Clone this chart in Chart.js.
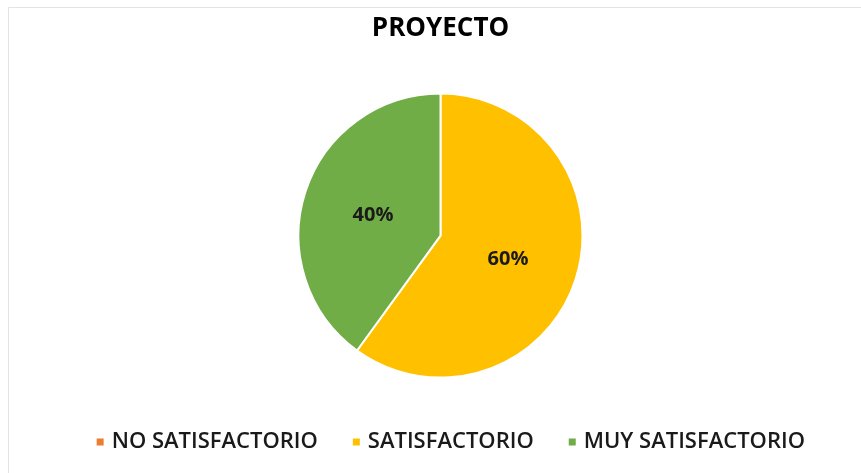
<!DOCTYPE html>
<html>
<head>
<meta charset="utf-8">
<script src="https://cdn.jsdelivr.net/npm/chart.js@4"></script>
<style>
  html, body { margin: 0; padding: 0; background: #fff; }
  #wrap { position: relative; width: 861px; height: 473px; }
</style>
</head>
<body>
<div id="wrap"><canvas id="pieChart" width="861" height="473"></canvas></div>
<script>
// Data
const categories = ['NO SATISFACTORIO', 'SATISFACTORIO', 'MUY SATISFACTORIO'];
const percentages = [0, 60, 40];
const sliceColors = ['#ED7D31', '#FFC000', '#70AD47'];

// Light frame line on top and left edges, like the pasted Excel chart
const framePlugin = {
  id: 'frame',
  beforeDraw(chart) {
    const ctx = chart.ctx;
    ctx.save();
    ctx.fillStyle = '#fff';
    ctx.fillRect(0, 0, chart.width, chart.height);
    ctx.strokeStyle = '#e3e3e3';
    ctx.lineWidth = 1;
    ctx.beginPath();
    ctx.moveTo(8.5, chart.height);
    ctx.lineTo(8.5, 7.5);
    ctx.lineTo(chart.width, 7.5);
    ctx.stroke();
    ctx.restore();
  }
};

// Percent labels inside the slices
const sliceLabels = {
  id: 'sliceLabels',
  afterDatasetsDraw(chart) {
    const ctx = chart.ctx;
    const meta = chart.getDatasetMeta(0);
    ctx.save();
    ctx.font = 'bold 20px "Open Sans", sans-serif';
    ctx.fillStyle = '#1a1a1a';
    ctx.textAlign = 'center';
    ctx.textBaseline = 'middle';
    meta.data.forEach((arc, i) => {
      if (!percentages[i]) return;
      const p = arc.tooltipPosition();
      ctx.fillText(percentages[i] + '%', p.x, p.y + 2);
    });
    ctx.restore();
  }
};

new Chart(document.getElementById('pieChart'), {
  type: 'pie',
  data: {
    labels: categories,
    datasets: [{
      data: percentages,
      backgroundColor: sliceColors,
      borderColor: '#fff',
      borderWidth: 2,
      radius: 142
    }]
  },
  options: {
    responsive: false,
    animation: false,
    layout: { padding: { left: 38, right: 18, top: 13, bottom: 10 } },
    plugins: {
      title: {
        display: true,
        text: 'PROYECTO',
        color: '#000',
        font: { family: '"Open Sans", sans-serif', size: 26, weight: 'bold' },
        padding: { top: 0, bottom: 34 }
      },
      legend: {
        position: 'bottom',
        align: 'end',
        labels: {
          color: '#1a1a1a',
          font: { family: '"Open Sans", sans-serif', size: 22, weight: '600' },
          // small square drawn as a point so the text sits close to it
          usePointStyle: true,
          pointStyle: 'rect',
          boxWidth: 1,
          boxHeight: 9,
          padding: 38
        }
      },
      tooltip: { enabled: false }
    }
  },
  plugins: [framePlugin, sliceLabels]
});
</script>
</body>
</html>
